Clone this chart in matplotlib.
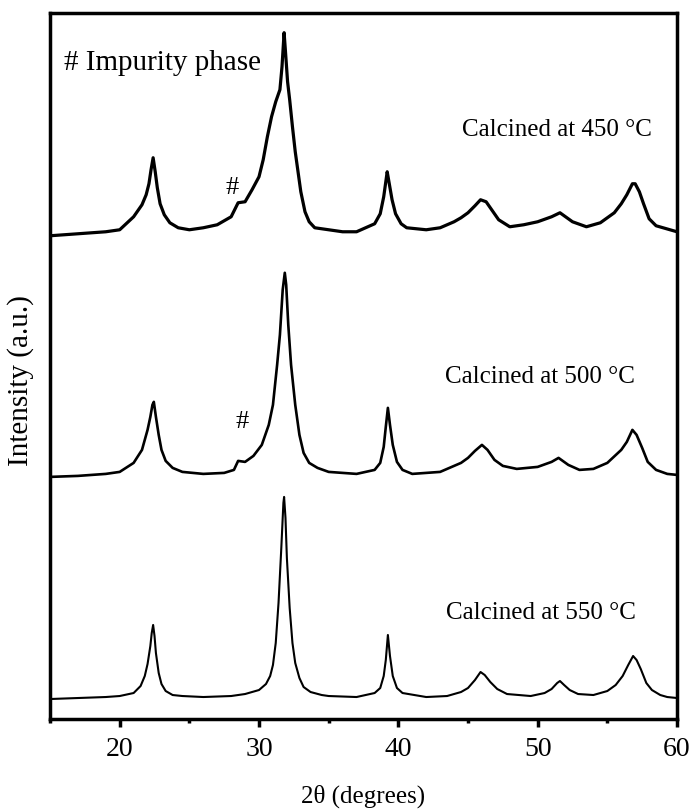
import matplotlib
matplotlib.use("Agg")
import matplotlib.pyplot as plt
from matplotlib.ticker import MultipleLocator

plt.rcParams['font.family'] = ['Liberation Serif', 'DejaVu Serif']

# 2theta / intensity pairs (intensity above each pattern's own baseline)
tt_550 = [15, 17, 19, 20, 21.0, 21.5, 21.8, 22.0, 22.2, 22.3, 22.4, 22.5, 22.6, 22.8, 23.0, 23.3,
          23.8, 24.5, 26, 28, 29, 30.0, 30.5, 30.8, 31.0, 31.2, 31.4, 31.6, 31.75, 31.8, 31.9,
          32.0, 32.2, 32.4, 32.6, 32.9, 33.2, 33.7, 34.5, 35, 37, 38.3, 38.7, 38.95, 39.1, 39.25,
          39.4, 39.6, 39.9, 40.3, 42, 43.5, 44.5, 45.0, 45.5, 45.9, 46.2, 46.6, 47.1, 47.8, 49.5,
          50.5, 51.0, 51.4, 51.6, 51.9, 52.3, 52.9, 54, 55.0, 55.6, 56.1, 56.5, 56.85, 57.1, 57.4,
          57.8, 58.2, 58.8, 59.3, 60]
int_550 = [-1, 0, 1, 2, 5, 12, 22, 34, 52, 65, 73, 62, 45, 25, 14, 7,
           3, 2, 1, 2, 4, 8, 14, 22, 33, 55, 95, 150, 195, 201, 180,
           140, 90, 55, 35, 20, 11, 6, 3, 2, 1, 5, 10, 22, 38, 63,
           42, 22, 10, 5, 1, 2, 6, 10, 18, 26, 23, 16, 9, 4, 2,
           5, 9, 15, 17, 13, 8, 4, 3, 7, 13, 22, 33, 42, 38, 29,
           15, 8, 3, 1, 0]

tt_500 = [15, 17, 19, 20, 21.0, 21.6, 22.0, 22.2, 22.35, 22.45, 22.6, 22.8, 23.0, 23.3, 23.8,
          24.5, 26, 27.5, 28.2, 28.5, 29, 29.6, 30.2, 30.7, 31.0, 31.3, 31.5, 31.7, 31.85, 31.95,
          32.1, 32.3, 32.6, 32.9, 33.2, 33.6, 34.2, 35, 37, 38.3, 38.7, 38.95, 39.1, 39.25, 39.4,
          39.6, 39.9, 40.3, 41, 43, 44.5, 45.0, 45.5, 46.0, 46.4, 46.9, 47.5, 48.5, 50, 51, 51.5,
          52.2, 53, 54, 55, 56.0, 56.4, 56.8, 57.1, 57.5, 57.9, 58.5, 59.3, 60]
int_500 = [-2, -1, 1, 3, 12, 25, 45, 58, 70, 73, 58, 40, 25, 14, 7,
           3, 1, 2, 5, 14, 13, 19, 30, 50, 70, 110, 140, 185, 202, 190,
           150, 110, 70, 40, 22, 12, 7, 3, 1, 5, 12, 28, 48, 67, 50,
           30, 13, 5, 1, 3, 12, 17, 24, 30, 25, 15, 9, 6, 8, 13, 17,
           10, 5, 6, 12, 25, 33, 45, 40, 27, 13, 5, 1, 0]

tt_450 = [15, 16, 17, 18, 19, 20, 21.0, 21.6, 21.9, 22.1, 22.25, 22.4, 22.55, 22.7, 22.9, 23.2,
          23.6, 24.2, 25, 26, 27, 28, 28.5, 29, 29.5, 30.0, 30.3, 30.6, 30.9, 31.2, 31.5, 31.65,
          31.8, 31.9, 32.05, 32.2, 32.4, 32.6, 32.8, 33.0, 33.3, 33.6, 34.0, 35, 36, 37, 38.3,
          38.7, 38.95, 39.1, 39.2, 39.35, 39.55, 39.8, 40.2, 40.6, 42, 43, 44.0, 44.5, 45.0, 45.5,
          45.9, 46.3, 46.7, 47.2, 48, 49, 50, 51, 51.6, 52.5, 53.5, 54.5, 55.5, 56.0, 56.4, 56.8,
          57.0, 57.3, 57.6, 58.0, 58.5, 59, 60]
int_450 = [-4, -3, -2, -1, 0, 2, 15, 27, 37, 48, 62, 74, 60, 44, 28, 17,
           9, 4, 2, 4, 7, 15, 29, 30, 42, 55, 72, 95, 115, 130, 142, 165,
           199, 180, 150, 132, 105, 80, 60, 40, 20, 10, 4, 2, 0, 0, 8,
           18, 35, 50, 60, 48, 32, 18, 8, 4, 2, 4, 10, 14, 19, 26,
           32, 30, 22, 12, 5, 7, 10, 15, 19, 10, 5, 9, 19, 28, 37, 48,
           48, 40, 28, 13, 6, 4, 0]

offsets = [21, 244, 487]
labels = ['Calcined at 550 °C', 'Calcined at 500 °C', 'Calcined at 450 °C']
label_pos = [(57.07, 106), (57.0, 342), (58.2, 589)]
impurity_pos = [(28.8, 297), (28.1, 531)]

fig = plt.figure(figsize=(6.92, 8.11), dpi=100)
ax = fig.add_axes([0.0723, 0.1134, 0.906, 0.871])

curves = [(tt_550, int_550, 1.5), (tt_500, int_500, 1.9), (tt_450, int_450, 2.3)]
for (tt, inten, lw), off in zip(curves, offsets):
    ax.plot(tt, [v + off for v in inten], color='black', lw=lw, solid_joinstyle='round')

for txt, (x, y) in zip(labels, label_pos):
    ax.text(x, y, txt, fontsize=18, ha='right', va='center')
for x, y in impurity_pos:
    ax.text(x, y, '#', fontsize=19, ha='center', va='center')
ax.text(16.0, 656, '# Impurity phase', fontsize=21, ha='left', va='center')

ax.set_xlim(15, 60)
ax.set_ylim(0, 706)
ax.xaxis.set_major_locator(MultipleLocator(10))
ax.xaxis.set_minor_locator(MultipleLocator(5))
ax.set_xticks([20, 30, 40, 50, 60])
ax.set_yticks([])
ax.tick_params(axis='x', which='major', direction='out', length=6, width=2.5, labelsize=20, pad=7)
ax.tick_params(axis='x', which='minor', direction='out', length=3, width=2.5)
for sp in ax.spines.values():
    sp.set_linewidth(2.5)

ax.set_xlabel('2θ (degrees)', fontsize=18, labelpad=16)
ax.set_ylabel('Intensity (a.u.)', fontsize=21)
ax.yaxis.set_label_coords(-0.026, 0.479)

fig.savefig('out.png', dpi=100)
